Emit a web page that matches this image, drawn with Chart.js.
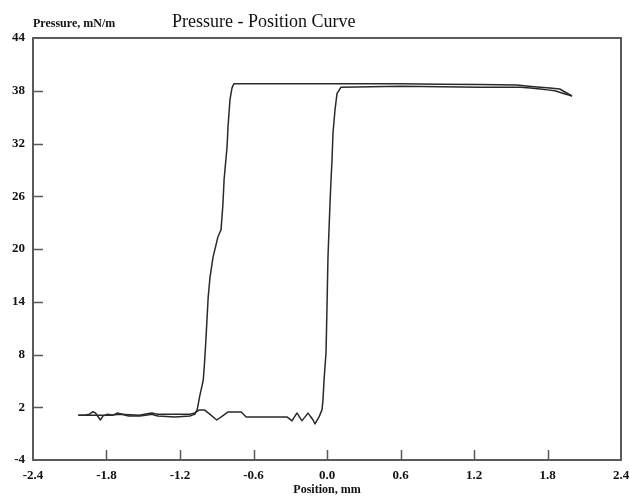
<!DOCTYPE html>
<html>
<head>
<meta charset="utf-8">
<script src="https://cdn.jsdelivr.net/npm/chart.js@4"></script>
<style>
  html, body { margin: 0; padding: 0; background: #fff; }
  #wrap { width: 630px; height: 500px; position: relative; }
</style>
</head>
<body>
<div id="wrap"><canvas id="curve"></canvas></div>
<script>
// -------------------------------
// DATA
// -------------------------------
// compression: left to right, then along the top
const compX = [-2.03, -1.98, -1.94, -1.91, -1.89, -1.85, -1.83, -1.79, -1.75, -1.71, -1.67, -1.62,
  -1.53, -1.43, -1.38, -1.24, -1.12, -1.08, -1.06, -1.04, -1.01, -1.00, -0.99, -0.98, -0.97,
  -0.955, -0.93, -0.89, -0.865, -0.85, -0.84, -0.833, -0.816, -0.808, -0.792, -0.776, -0.76,
  -0.22, 0.6, 1.25, 1.55, 1.74, 1.90, 2.0];
const compY = [1.1, 1.1, 1.2, 1.5, 1.35, 0.55, 1.0, 1.2, 1.1, 1.35, 1.2, 1.0,
  1.0, 1.2, 1.0, 0.9, 1.0, 1.2, 1.7, 3.2, 5.1, 7.0, 9.3, 11.9, 14.5,
  16.8, 19.1, 21.4, 22.2, 25.0, 27.9, 29.0, 31.6, 33.9, 37.0, 38.3, 38.8,
  38.8, 38.8, 38.7, 38.65, 38.4, 38.2, 37.4];

// expansion: back from the right end, drop, then along the bottom
const expX = [2.0, 1.95, 1.86, 1.74, 1.58, 1.25, 0.6, 0.114, 0.082, 0.065, 0.049, 0.041, 0.033,
  0.024, 0.008, 0.0, -0.008, -0.024, -0.033, -0.041, -0.065, -0.098, -0.114, -0.155, -0.204,
  -0.245, -0.286, -0.327, -0.66, -0.70, -0.81, -0.90, -1.00, -1.04, -1.08, -1.12, -1.38,
  -1.43, -1.53, -1.69, -1.77, -1.85, -2.03];
const expY = [37.4, 37.6, 38.0, 38.2, 38.4, 38.4, 38.5, 38.4, 37.7, 35.8, 33.2, 30.1, 27.9,
  25.0, 19.1, 13.4, 8.2, 5.1, 2.8, 1.7, 0.9, 0.1, 0.55, 1.35, 0.45,
  1.35, 0.45, 0.9, 0.9, 1.45, 1.45, 0.55, 1.7, 1.7, 1.35, 1.2, 1.2,
  1.35, 1.1, 1.2, 1.1, 1.1, 1.1];

const xTicks = [-2.4, -1.8, -1.2, -0.6, 0.0, 0.6, 1.2, 1.8, 2.4];
const yTicks = [-4, 2, 8, 14, 20, 26, 32, 38, 44];

const LINE = '#2a2a2a';
const AXIS = '#5a5a5a';
const FONT = "'Liberation Serif', 'DejaVu Serif', serif";

const toPoints = (xs, ys) => xs.map((x, i) => ({ x: x, y: ys[i] }));

// box round the plot, inward tick marks, top texts
const frame = {
  id: 'frame',
  afterDraw(chart) {
    const { ctx, chartArea: a, scales } = chart;
    ctx.save();
    ctx.strokeStyle = AXIS;
    ctx.lineWidth = 2;
    ctx.beginPath();
    ctx.moveTo(a.left, a.top);
    ctx.lineTo(a.right, a.top);
    ctx.lineTo(a.right, a.bottom);
    ctx.stroke();

    ctx.lineWidth = 1.5;
    ctx.beginPath();
    xTicks.slice(1, -1).forEach(v => {
      const px = Math.round(scales.x.getPixelForValue(v)) + 0.5;
      ctx.moveTo(px, a.bottom);
      ctx.lineTo(px, a.bottom - 10);
    });
    yTicks.slice(1, -1).forEach(v => {
      const py = Math.round(scales.y.getPixelForValue(v)) + 0.5;
      ctx.moveTo(a.left, py);
      ctx.lineTo(a.left + 10, py);
    });
    ctx.stroke();

    ctx.fillStyle = '#111';
    ctx.textBaseline = 'alphabetic';
    ctx.textAlign = 'left';
    ctx.font = "bold 12px " + FONT;
    ctx.fillText('Pressure, mN/m', 33, 27);
    ctx.font = "18px " + FONT;
    ctx.fillText('Pressure - Position Curve', 172, 27);
    ctx.restore();
  }
};

// tiny tension keeps Chart.js off its fast path (which merges points
// sharing one pixel column and leaves little spikes on steep parts)
const lineStyle = {
  showLine: true,
  borderColor: LINE,
  borderWidth: 1.5,
  borderJoinStyle: 'round',
  pointRadius: 0,
  tension: 0.001
};

new Chart(document.getElementById('curve'), {
  type: 'scatter',
  data: {
    datasets: [
      { data: toPoints(compX, compY), ...lineStyle },
      { data: toPoints(expX, expY), ...lineStyle }
    ]
  },
  options: {
    responsive: true,
    maintainAspectRatio: false,
    animation: false,
    layout: { padding: { top: 38, right: 9, left: 0, bottom: 0 } },
    plugins: {
      legend: { display: false },
      tooltip: { enabled: false }
    },
    scales: {
      x: {
        type: 'linear',
        min: -2.4,
        max: 2.4,
        afterBuildTicks: s => { s.ticks = xTicks.map(v => ({ value: v })); },
        afterFit: s => { s.height = 40; s.paddingLeft = 0; s.paddingRight = 0; },
        grid: { display: false, drawTicks: false },
        border: { display: true, color: AXIS, width: 2 },
        ticks: {
          padding: 8,
          color: '#111',
          maxRotation: 0,
          autoSkip: false,
          font: { family: FONT, size: 13, weight: 'bold' },
          callback: v => v.toFixed(1)
        },
        title: {
          display: true,
          text: 'Position, mm',
          color: '#111',
          padding: { top: 0, bottom: 3 },
          font: { family: FONT, size: 12, weight: 'bold' }
        }
      },
      y: {
        type: 'linear',
        min: -4,
        max: 44,
        afterBuildTicks: s => { s.ticks = yTicks.map(v => ({ value: v })); },
        afterFit: s => { s.width = 33; s.paddingTop = 0; s.paddingBottom = 0; },
        grid: { display: false, drawTicks: false },
        border: { display: true, color: AXIS, width: 2 },
        ticks: {
          padding: 8,
          color: '#111',
          autoSkip: false,
          font: { family: FONT, size: 13, weight: 'bold' }
        }
      }
    }
  },
  plugins: [frame]
});
</script>
</body>
</html>
